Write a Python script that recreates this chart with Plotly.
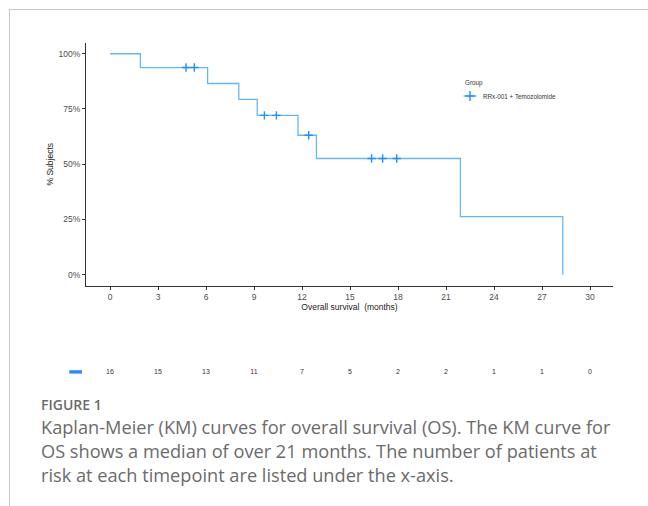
import numpy as np
import plotly.graph_objects as go

# Kaplan-Meier step curve (months, % surviving)
event_months = [0, 1.9, 6.1, 8.05, 9.2, 11.75, 12.9, 21.9, 28.3]
survival_pct = [100, 93.75, 86.54, 79.33, 72.12, 63.10, 52.58, 26.29, 0]

# Censored observations (months)
censor_months = [4.75, 5.27, 9.65, 10.4, 12.42, 16.35, 17.04, 17.92]

# Number at risk table
risk_months = [0, 3, 6, 9, 12, 15, 18, 21, 24, 27, 30]
at_risk = [16, 15, 13, 11, 7, 5, 2, 2, 1, 1, 0]

x_ticks = [0, 3, 6, 9, 12, 15, 18, 21, 24, 27, 30]
y_ticks = [0, 25, 50, 75, 100]

group_name = "RRx-001 + Temozolomide"
caption_head = "FIGURE 1"
caption_lines = [
    "Kaplan-Meier (KM) curves for overall survival (OS). The KM curve for",
    "OS shows a median of over 21 months. The number of patients at",
    "risk at each timepoint are listed under the x-axis.",
]

W, H = 648, 506
LINE_C = "#64B8F7"
MARK_C = "#1E90FF"
TXT = "#4d4d4d"
FONT = "Liberation Sans, Arial, sans-serif"
CAP_FONT = "Open Sans, sans-serif"

def px_x(p):
    return p / W

def px_y(p):
    return 1 - p / H

# survival value at each censor time from the step function
idx = np.searchsorted(event_months, censor_months, side="right") - 1
censor_pct = [survival_pct[i] for i in idx]

fig = go.Figure()

fig.add_trace(go.Scatter(
    x=event_months, y=survival_pct, mode="lines",
    line=dict(color=LINE_C, width=1.3, shape="hv"),
    showlegend=False, hoverinfo="skip", xaxis="x", yaxis="y",
))
fig.add_trace(go.Scatter(
    x=censor_months, y=censor_pct, mode="markers",
    marker=dict(symbol="cross-thin", size=6, line=dict(color=MARK_C, width=1.4)),
    showlegend=False, xaxis="x", yaxis="y",
))

# risk table row
fig.add_trace(go.Scatter(
    x=risk_months, y=[0] * len(risk_months), mode="text",
    text=[str(v) for v in at_risk],
    textfont=dict(family=FONT, size=7, color="#333333"),
    showlegend=False, xaxis="x2", yaxis="y2",
))

# group key (pixel-space overlay axes)
fig.add_trace(go.Scatter(
    x=[463.5, 476.5], y=[96, 96], mode="lines",
    line=dict(color=LINE_C, width=1.3),
    showlegend=False, hoverinfo="skip", xaxis="x3", yaxis="y3",
))
fig.add_trace(go.Scatter(
    x=[470], y=[96], mode="markers",
    marker=dict(symbol="cross-thin", size=7, line=dict(color=MARK_C, width=1.4)),
    showlegend=False, hoverinfo="skip", xaxis="x3", yaxis="y3",
))

x_left, x_right = 86, 613
y_top, y_bot = 42.7, 285.7
px_per_month = 16.0
x_min = -1.5
x_max = x_min + (x_right - x_left) / px_per_month

axis_common = dict(
    showline=True, linecolor="#333333", linewidth=1.1,
    ticks="outside", ticklen=3, tickwidth=1, tickcolor="#333333",
    showgrid=False, zeroline=False,
    tickfont=dict(family=FONT, size=8.5, color=TXT),
)

fig.update_layout(
    width=W, height=H,
    margin=dict(l=0, r=0, t=0, b=0),
    paper_bgcolor="white", plot_bgcolor="rgba(0,0,0,0)",
    xaxis=dict(
        domain=[px_x(x_left), px_x(x_right)], range=[x_min, x_max],
        tickvals=x_ticks, anchor="y",
        title=dict(text="Overall survival  (months)", standoff=2,
                   font=dict(family=FONT, size=8.5, color="#222222")),
        **axis_common,
    ),
    yaxis=dict(
        domain=[px_y(y_bot), px_y(y_top)], range=[-5, 105],
        tickvals=y_ticks, ticktext=[f"{v}%" for v in y_ticks], anchor="x",
        title=dict(text="% Subjects", standoff=3,
                   font=dict(family=FONT, size=8.5, color="#222222")),
        **axis_common,
    ),
    xaxis2=dict(
        domain=[px_x(x_left), px_x(x_right)], range=[x_min, x_max],
        anchor="y2", visible=False,
    ),
    yaxis2=dict(
        domain=[px_y(382), px_y(362)], range=[-1, 1],
        anchor="x2", visible=False,
    ),
    xaxis3=dict(domain=[0, 1], range=[0, W], anchor="y3", visible=False),
    yaxis3=dict(domain=[0, 1], range=[H, 0], anchor="x3", visible=False),
)

# risk table colour key
fig.add_shape(type="rect", xref="x3", yref="y3",
              x0=69.3, x1=82, y0=370.2, y1=373.6,
              fillcolor=MARK_C, line=dict(width=0))

# frame lines
fig.add_shape(type="line", xref="x3", yref="y3", x0=9, x1=W, y0=9.5, y1=9.5,
              line=dict(color="#c8c8c8", width=1))
fig.add_shape(type="line", xref="x3", yref="y3", x0=9.5, x1=9.5, y0=9, y1=H,
              line=dict(color="#c8c8c8", width=1))

# group key labels
fig.add_annotation(x=462.5, y=82.5, xref="x3", yref="y3", text="Group",
                   showarrow=False, xanchor="left", yanchor="middle",
                   font=dict(family=FONT, size=6.3, color="#333333"))
fig.add_annotation(x=480.5, y=96.5, xref="x3", yref="y3", text=group_name,
                   showarrow=False, xanchor="left", yanchor="middle",
                   font=dict(family=FONT, size=6.3, color="#333333"))

# caption
fig.add_annotation(x=39, y=404, xref="x3", yref="y3", text=caption_head,
                   showarrow=False, xanchor="left", yanchor="middle",
                   font=dict(family=CAP_FONT, size=14, color="#6b6b6b", weight=600))
for i, line in enumerate(caption_lines):
    fig.add_annotation(x=39, y=427 + 24 * i, xref="x3", yref="y3", text=line,
                       showarrow=False, xanchor="left", yanchor="middle",
                       font=dict(family=CAP_FONT, size=18.2, color="#6b6b6b"))

fig.write_html("out.html")
